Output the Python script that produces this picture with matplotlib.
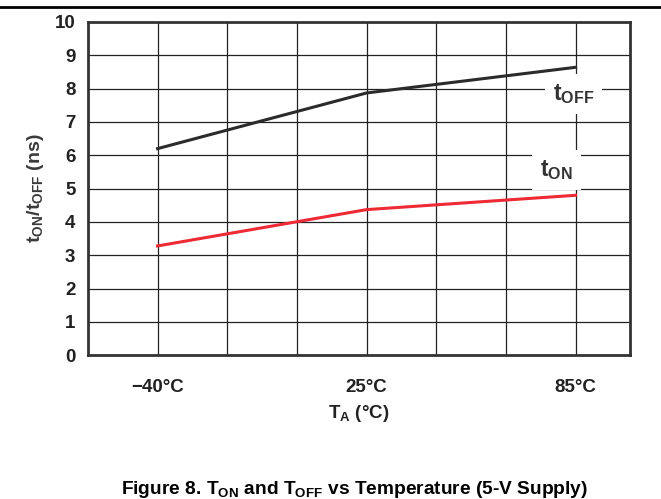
import matplotlib
matplotlib.use("Agg")
import matplotlib.pyplot as plt
from matplotlib.lines import Line2D

plt.rcParams['font.family'] = ['Liberation Sans', 'DejaVu Sans']
plt.rcParams['mathtext.fontset'] = 'custom'
plt.rcParams['mathtext.rm'] = 'Liberation Sans'
plt.rcParams['mathtext.bf'] = 'Liberation Sans:bold'
plt.rcParams['mathtext.it'] = 'Liberation Sans'

# data (grid index positions: -40 -> 1, 25 -> 4, 85 -> 7)
temp_labels = ['\u221240\u00b0C', '25\u00b0C', '85\u00b0C']
temp_pos = [1, 4, 7]
t_off = [6.2, 7.87, 8.64]
t_on = [3.28, 4.37, 4.8]
y_ticks = [0, 1, 2, 3, 4, 5, 6, 7, 8, 9, 10]

fig = plt.figure(figsize=(6.61, 4.99), dpi=100)
ax = fig.add_axes([0.133, 0.288, 0.820, 0.668])

ax.set_xlim(0, 7.78)
ax.set_ylim(0, 10)

# grid
for gx in range(1, 8):
    ax.axvline(gx, color='#222222', lw=0.9, zorder=1)
for gy in range(1, 10):
    ax.axhline(gy, color='#222222', lw=0.9, zorder=1)

ax.plot(temp_pos, t_off, color='#2b2b2b', lw=2.2, zorder=3)
ax.plot(temp_pos, t_on, color='#ee2a35', lw=2.2, zorder=3)

# curve labels with white boxes that break the grid
ax.text(6.97, 7.85, r'$\mathregular{t_{OFF}}$', fontsize=16.5, fontweight='bold', ha='center',
        va='center', color='#333333', zorder=4,
        bbox=dict(boxstyle='square,pad=0.35', fc='white', ec='none'))
ax.text(6.72, 5.55, r'$\mathregular{t_{ON}}$', fontsize=16.5, fontweight='bold', ha='center',
        va='center', color='#333333', zorder=4,
        bbox=dict(boxstyle='square,pad=0.35', fc='white', ec='none'))

ax.set_xticks(temp_pos)
ax.set_xticklabels(temp_labels, fontsize=13.5, fontweight='bold', color='#222222')
ax.set_yticks(y_ticks)
ax.set_yticklabels([str(v) for v in y_ticks], fontsize=13.5, fontweight='bold', color='#222222')
ax.tick_params(length=0, pad=9)
ax.tick_params(axis='x', pad=17)

for s in ax.spines.values():
    s.set_linewidth(2)
    s.set_color('#333333')

ax.set_xlabel(r'$\mathregular{T_A}$ (°C)', fontsize=13.5, fontweight='bold', color='#222222', labelpad=5)
ax.set_ylabel(r'$\mathregular{t_{ON}/t_{OFF}}$ (ns)', fontsize=14, fontweight='bold', color='#3a3a3a', labelpad=6)

# top rule line
fig.add_artist(Line2D([0, 1], [0.985, 0.985], transform=fig.transFigure, color='black', lw=2))

fig.text(0.537, 0.02, r'Figure 8. $\mathregular{T_{ON}}$ and $\mathregular{T_{OFF}}$ vs Temperature (5-V Supply)',
         fontsize=13.8, fontweight='bold', ha='center', va='center', color='black')

fig.savefig('out.png', dpi=100)
